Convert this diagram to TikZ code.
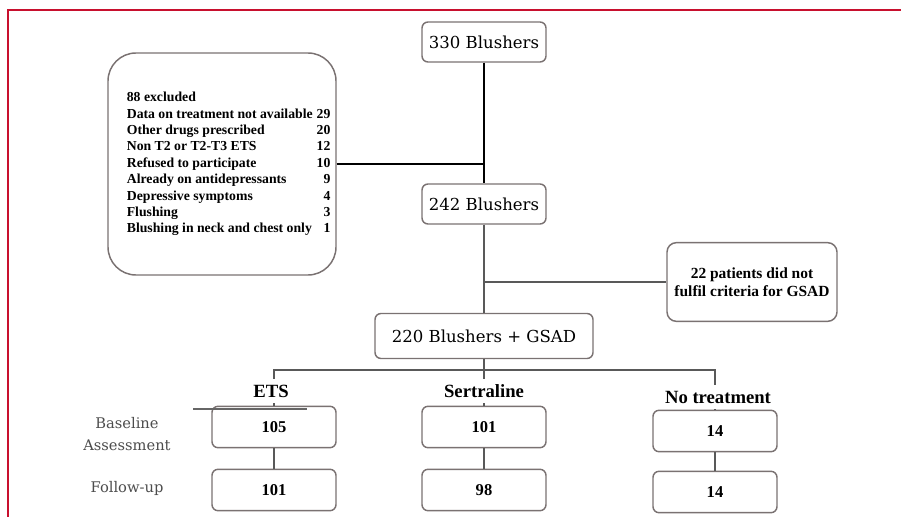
\documentclass[tikz,border=0pt]{standalone}
\usepackage{fontspec}
\setmainfont{Liberation Serif}
\newfontfamily\flowfont{DejaVu Serif}
\usetikzlibrary{positioning}
\definecolor{framered}{HTML}{C8102E}
\definecolor{boxline}{HTML}{7A7272}

\begin{document}
\begin{tikzpicture}[x=0.75pt,y=-0.75pt,
    blushbox/.style={draw=boxline,line width=1.1pt,rounded corners=4.5pt,fill=white,
      minimum width=93pt,minimum height=30pt,font=\flowfont\fontsize{12.4}{15}\selectfont},
    countbox/.style={draw=boxline,line width=1.1pt,rounded corners=4.5pt,fill=white,
      minimum width=93pt,minimum height=31pt,font=\bfseries\fontsize{12.4}{15}\selectfont},
    notebox/.style={draw=boxline,line width=1.1pt,fill=white,inner xsep=0pt},
    grouplabel/.style={fill=white,inner xsep=2pt,inner ysep=4pt,font=\bfseries\fontsize{14}{17}\selectfont},
    sidelabel/.style={align=center,text=black!70,font=\flowfont\fontsize{11}{16.5}\selectfont},
    link/.style={draw=black!65,line width=1.1pt},
    mainlink/.style={draw=black,line width=1.5pt}]
    % Set page size and frame
    \useasboundingbox (0,0) rectangle (901,517);
    \draw[framered,line width=1.2pt] (8,517) -- (8,10) -- (901,10);

    % Draw flow boxes
    \node[blushbox] (total) at (484,42) {330 Blushers};
    \node[notebox,rounded corners=21pt,minimum width=171pt,minimum height=166.5pt,
      font=\bfseries\fontsize{10.3}{12.3}\selectfont] (excluded) at (222,164) {%
      \hspace*{10pt}\begin{tabular}{@{}l@{\hspace{3pt}}r@{}}
        88 excluded & \\
        Data on treatment not available & 29\\
        Other drugs prescribed & 20\\
        Non T2 or T2-T3 ETS & 12\\
        Refused to participate & 10\\
        Already on antidepressants & 9\\
        Depressive symptoms & 4\\
        Flushing & 3\\
        Blushing in neck and chest only & 1
      \end{tabular}};
    \node[blushbox] (remaining) at (484,204) {242 Blushers};
    \node[notebox,rounded corners=7pt,minimum width=127.5pt,minimum height=59pt,align=center,
      font=\bfseries\fontsize{11.6}{13.5}\selectfont] (notmet) at (752,282)
      {22 patients did not\\fulfil criteria for GSAD};
    \node[blushbox,minimum width=163.5pt,minimum height=33.75pt] (gsad) at (484,336) {220 Blushers + GSAD};

    % Draw group boxes
    \node[countbox] (etsbase) at (274,427) {105};
    \node[countbox] (etsfollow) at (274,490) {101};
    \node[countbox] (serbase) at (484,427) {101};
    \node[countbox] (serfollow) at (484,490) {98};
    \node[countbox] (nonebase) at (715,431) {14};
    \node[countbox] (nonefollow) at (715,492) {14};
    \coordinate (split) at (484,370);

    % Draw connectors
    \draw[mainlink] (total.south) -- (remaining.north);
    \draw[mainlink] (excluded.east) -- (excluded.east -| total.south);
    \draw[link] (remaining.south) -- (gsad.north);
    \draw[link] (notmet.west -| remaining.south) -- (notmet.west);
    \draw[link] (gsad.south) -- (serbase.north);
    \draw[link] (etsbase.north) -- (etsbase.north |- split) -- (nonebase.north |- split) -- (nonebase.north);
    \draw[link] (etsbase.south) -- (etsfollow.north);
    \draw[link] (serbase.south) -- (serfollow.north);
    \draw[link] (nonebase.south) -- (nonefollow.north);
    \draw[black!60,line width=1.3pt] (193,409) -- (307,409);

    % Group and time labels
    \node[grouplabel] (etslabel) at (271,391) {ETS};
    \node[grouplabel] (serlabel) at (484,391) {Sertraline};
    \node[grouplabel] (nonelabel) at (718,397) {No treatment};
    \node[sidelabel] (baseline) at (127,434) {Baseline\\Assessment};
    \node[sidelabel] (followup) at (127,488) {Follow-up};
\end{tikzpicture}
\end{document}
